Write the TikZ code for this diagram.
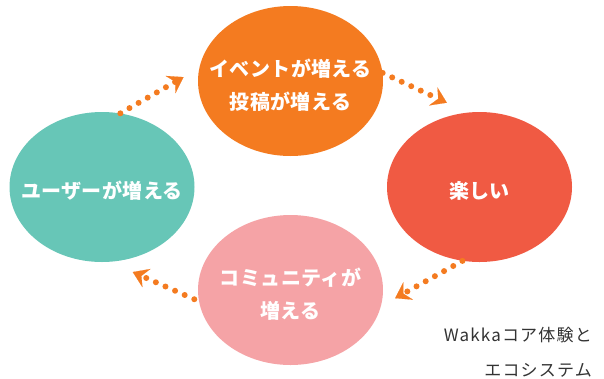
\documentclass[tikz,border=0pt]{standalone}
\usepackage{fontspec}
\setmainfont{Noto Sans CJK JP}
\newfontfamily\jpfont{Noto Sans CJK JP}[LetterSpace=2]
\newfontfamily\capfont{Noto Sans CJK JP}[LetterSpace=7]
\usetikzlibrary{shapes.geometric,arrows.meta}

\definecolor{bubble_orange}{HTML}{F47B20}
\definecolor{bubble_red}{HTML}{F05A43}
\definecolor{bubble_pink}{HTML}{F5A3A6}
\definecolor{bubble_teal}{HTML}{67C6B7}
\definecolor{dot_orange}{HTML}{F47B20}
\definecolor{caption_gray}{HTML}{333333}

\newcommand{\bubbletext}[1]{\makebox[0pt]{\raisebox{-10.5pt}[0pt][0pt]{\begin{tabular}{@{}c@{}}#1\end{tabular}}}}

\tikzset{>={Stealth[length=15pt,width=20pt,inset=5.5pt,line width=0.1pt]}}

\begin{document}
\begin{tikzpicture}[x=1pt,y=-1pt]

	\tikzstyle{bubble} = [ellipse, minimum width=185pt, minimum height=150pt, inner sep=0pt, text=white, font=\jpfont\bfseries\fontsize{20}{33}\selectfont]
	\tikzstyle{dot_arrow} = [->, draw=dot_orange, line width=6pt, line cap=round, dash pattern=on 0pt off 10.5pt]

	\useasboundingbox (0,0) rectangle (604,378);

%------------------------------------------------------------
	\node[bubble, fill=bubble_orange] (posts) at (290.5,81) {\bubbletext{イベントが増える\\投稿が増える}};
	\node[bubble, fill=bubble_red] (fun) at (479.5,187) {\bubbletext{楽しい}};
	\node[bubble, fill=bubble_pink] (community) at (290.5,290) {\bubbletext{コミュニティが\\増える}};
	\node[bubble, fill=bubble_teal] (users) at (102,187) {\bubbletext{ユーザーが増える}};

%------------------------------------------------------------

	\draw[dot_arrow, shorten >=18pt] (users.76) -- (posts.172);
	\draw[dot_arrow, shorten >=23pt] (posts.5) -- (fun.99);
	\draw[dot_arrow, shorten >=16pt] (fun.257) -- (community.350);
	\draw[dot_arrow, shorten <=5pt, shorten >=25pt] (community.187) -- (users.276);

%------------------------------------------------------------

	\node[anchor=east, align=right, inner sep=0pt, text=caption_gray, font=\capfont\fontsize{17}{35}\selectfont] (caption) at (592,352.5) {Wakkaコア体験と\\エコシステム};

\end{tikzpicture}
\end{document}
